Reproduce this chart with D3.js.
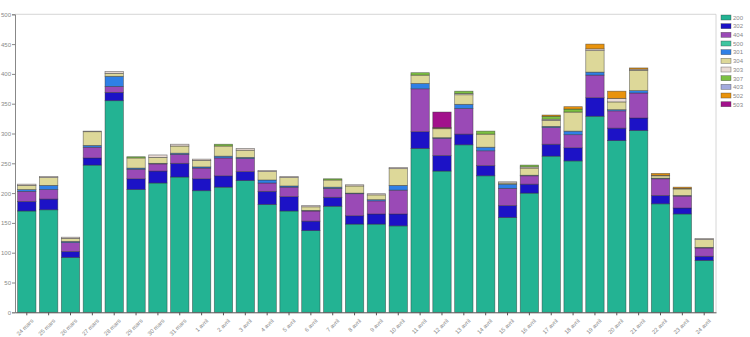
<!DOCTYPE html>
<html><head><meta charset="utf-8">
<script src="https://cdn.jsdelivr.net/npm/d3@7"></script>
<style>body{margin:0;background:#fff;} svg{display:block;font-family:"Liberation Sans",Arial,sans-serif;}</style>
</head><body>
<svg id="c" width="750" height="337"></svg>
<script>
const categories = ["24 mars","25 mars","26 mars","27 mars","28 mars","29 mars","30 mars","31 mars","1 avril","2 avril","3 avril","4 avril","5 avril","6 avril","7 avril","8 avril","9 avril","10 avril","11 avril","12 avril","13 avril","14 avril","15 avril","16 avril","17 avril","18 avril","19 avril","20 avril","21 avril","22 avril","23 avril","24 avril"];
const seriesNames = ["200","302","404","500","301","304","303","307","403","502","503"];
const seriesColors = ["#23b393","#1c12c6","#9a4ab6","#3fc6a0","#2f80e6","#ddd899","#eadcd6","#7cc142","#a3aade","#e9930c","#a2118c"];
const s200 = [170,172,92,247,355,206,217,227,204,210,221,181,170,137,178,148,148,145,275,237,281,229,159,200,262,254,329,288,305,182,165,87];
const s302 = [16,18,10,12,14,18,20,23,20,19,15,22,24,16,15,14,17,20,28,26,18,17,20,15,20,22,31,21,21,14,10,7];
const s404 = [17,16,15,18,10,16,12,15,18,30,22,14,16,17,15,37,22,40,72,29,43,25,29,14,28,22,38,29,42,28,20,14];
const s500 = [0,0,0,0,0,0,0,0,0,0,0,0,0,0,0,0,0,0,0,0,0,0,0,0,0,0,0,0,0,0,0,0];
const s301 = [3,7,2,3,17,2,1,2,2,3,2,5,2,1,2,1,2,8,9,1,7,6,7,1,2,6,5,2,4,1,1,1];
const s304 = [7,13,5,23,5,17,10,12,11,17,12,14,14,6,12,12,8,28,14,15,16,22,2,12,10,32,36,13,34,4,11,13];
const s303 = [2,2,2,1,3,0,4,3,2,0,3,2,2,2,0,2,2,2,0,1,2,0,2,2,2,0,3,6,2,1,1,2];
const s307 = [0,0,0,0,0,2,0,0,0,3,0,0,0,0,2,0,0,0,4,0,4,5,0,3,5,5,0,0,0,0,0,0];
const s403 = [0,0,0,0,0,0,0,0,0,0,0,0,0,0,0,0,0,0,0,0,0,0,0,0,0,0,0,0,0,0,0,0];
const s502 = [0,0,0,0,0,0,0,0,0,0,0,0,0,0,0,0,0,0,0,1,0,0,0,0,2,4,8,12,2,3,2,0];
const s503 = [0,0,0,0,0,0,0,0,0,0,0,0,0,0,0,0,0,0,0,26,0,0,0,0,0,0,0,0,0,0,0,0];
const yTicks = [0,50,100,150,200,250,300,350,400,450,500];

const seriesValues = [s200,s302,s404,s500,s301,s304,s303,s307,s403,s502,s503];
const table = categories.map((c,i)=>{const o={cat:c}; seriesNames.forEach((s,j)=>o[s]=seriesValues[j][i]); return o;});
const stacked = d3.stack().keys(seriesNames)(table);

const svg = d3.select("#c");
const L=15, R=716, T=14.3, B=312.3;
const x = d3.scaleBand().domain(categories).range([L,R]).paddingInner(0.16).paddingOuter(0.12);
const y = d3.scaleLinear().domain([0,500]).range([B,T]);
const color = d3.scaleOrdinal().domain(seriesNames).range(seriesColors);

// frame
svg.append("line").attr("x1",L).attr("x2",R).attr("y1",T).attr("y2",T).attr("stroke","#ccc").attr("stroke-width",0.8);
svg.append("line").attr("x1",R).attr("x2",R).attr("y1",T).attr("y2",B).attr("stroke","#ccc").attr("stroke-width",0.8);

// bars
svg.append("g").selectAll("g").data(stacked).join("g")
  .attr("fill",d=>color(d.key))
  .selectAll("rect").data(d=>d.filter(p=>p[1]-p[0]>0)).join("rect")
  .attr("x",d=>x(d.data.cat))
  .attr("width",x.bandwidth())
  .attr("y",d=>y(d[1]))
  .attr("height",d=>y(d[0])-y(d[1]))
  .attr("stroke","rgba(50,50,50,0.6)")
  .attr("stroke-width",0.7);

// y axis
const ya = svg.append("g").attr("transform",`translate(${L},0)`)
  .call(d3.axisLeft(y).tickValues(yTicks).tickSize(3).tickPadding(1));
ya.select(".domain").attr("stroke","#888");
ya.selectAll(".tick line").attr("stroke","#888");
ya.selectAll("text").attr("font-size","6px").attr("fill","#888").attr("font-family","Liberation Sans, Arial, sans-serif");

// x axis
const xa = svg.append("g").attr("transform",`translate(0,${B})`)
  .call(d3.axisBottom(x).tickSize(3).tickPadding(2).tickSizeOuter(0));
xa.select(".domain").attr("stroke","#555");
xa.selectAll(".tick line").attr("stroke","#555");
xa.selectAll("text").attr("font-size","5.8px").attr("fill","#888")
  .attr("font-family","Liberation Sans, Arial, sans-serif")
  .attr("text-anchor","end").attr("dy","0.35em")
  .attr("transform","translate(2,4) rotate(-45)");

// legend
const lg = svg.append("g").attr("transform","translate(721,15)");
const item = lg.selectAll("g").data(seriesNames).join("g")
  .attr("transform",(d,i)=>`translate(0,${i*8.67})`);
item.append("rect").attr("width",10).attr("height",5).attr("fill",d=>color(d))
  .attr("stroke","rgba(60,60,60,0.6)").attr("stroke-width",0.6);
item.append("text").attr("x",12).attr("y",4.8).attr("font-size","6px").attr("fill","#888").text(d=>d);
</script>
</body></html>
